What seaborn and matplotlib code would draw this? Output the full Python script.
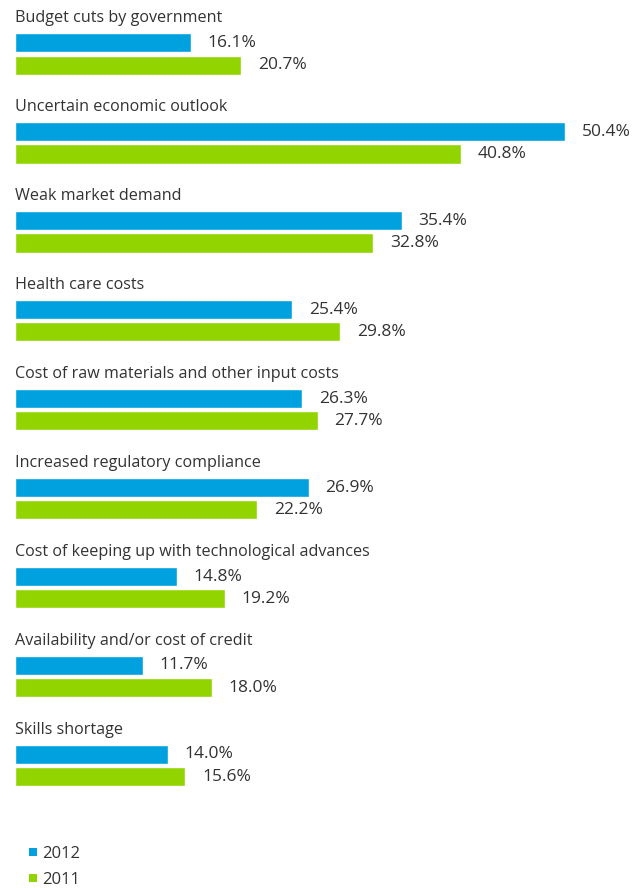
import matplotlib
matplotlib.use("Agg")
import matplotlib.pyplot as plt
from matplotlib.lines import Line2D
import seaborn as sns
import pandas as pd

categories = [
    "Budget cuts by government",
    "Uncertain economic outlook",
    "Weak market demand",
    "Health care costs",
    "Cost of raw materials and other input costs",
    "Increased regulatory compliance",
    "Cost of keeping up with technological advances",
    "Availability and/or cost of credit",
    "Skills shortage",
]
values_2012 = [16.1, 50.4, 35.4, 25.4, 26.3, 26.9, 14.8, 11.7, 14.0]
values_2011 = [20.7, 40.8, 32.8, 29.8, 27.7, 22.2, 19.2, 18.0, 15.6]
years = ["2012", "2011"]

BLUE = "#00A1DE"
GREEN = "#92D400"
TEXT = "#333333"

sns.set_theme(style="white")
plt.rcParams["font.family"] = ["Open Sans", "DejaVu Sans"]

df = pd.DataFrame({
    "category": categories * 2,
    "year": [years[0]] * len(categories) + [years[1]] * len(categories),
    "value": values_2012 + values_2011,
})

fig = plt.figure(figsize=(6.44, 8.88), dpi=100)
ax = fig.add_axes([0, 0, 1, 1])

sns.barplot(
    data=df, x="value", y="category", hue="year", order=categories,
    hue_order=years, palette=[BLUE, GREEN], orient="h",
    width=0.5, gap=0.14, ax=ax, legend=False, saturation=1,
)

ax.set_xlim(-1.38, 57.6)
ax.set_ylim(9.377, -0.607)
ax.axis("off")

# value labels to the right of each bar
for container in ax.containers:
    ax.bar_label(container, labels=[f"{v:.1f}%" for v in container.datavalues],
                 padding=12, fontsize=12.5, color=TEXT)

# category titles above each pair of bars
for i, cat in enumerate(categories):
    ax.text(0, i - 0.405, cat, fontsize=11.6, color=TEXT, va="center", ha="left")

handles = [
    Line2D([], [], marker="s", linestyle="none", markersize=5.2,
           markerfacecolor=c, markeredgewidth=0) for c in (BLUE, GREEN)
]
fig.legend(handles, years, loc="upper left", bbox_to_anchor=(0.038, 0.047),
           frameon=False, fontsize=12, handletextpad=0.05, labelspacing=0.6,
           handlelength=1.0, labelcolor=TEXT, borderaxespad=0, borderpad=0)

fig.savefig("out.png", dpi=100)
